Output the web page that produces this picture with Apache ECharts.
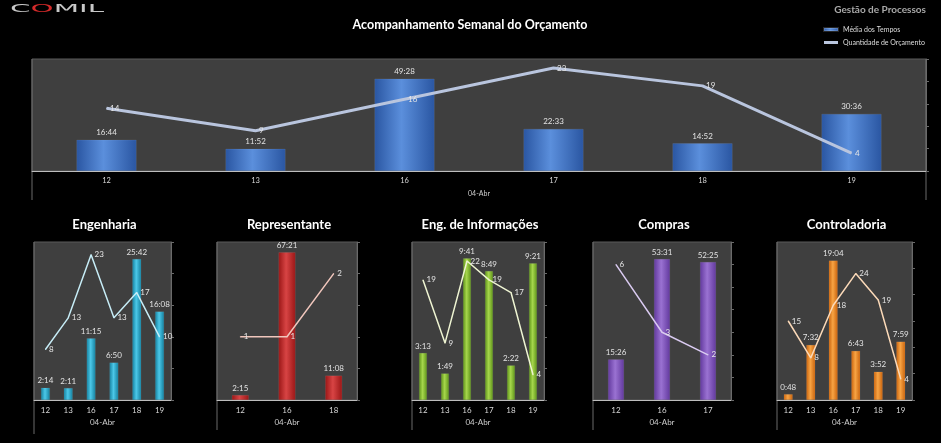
<!DOCTYPE html>
<html>
<head>
<meta charset="utf-8">
<script src="https://cdn.jsdelivr.net/npm/echarts@6/dist/echarts.min.js"></script>
<style>
  html, body { margin: 0; padding: 0; background: #000; }
  #chart { width: 941px; height: 443px; }
</style>
</head>
<body>
<div id="chart"></div>
<script>
// dados (tempos em mm:ss, quantidade de orçamentos)
var geralDias = ['12', '13', '16', '17', '18', '19'];
var geralTempos = ['16:44', '11:52', '49:28', '22:33', '14:52', '30:36'];
var geralQtd = [14, 9, 16, 23, 19, 4];

var engDias = ['12', '13', '16', '17', '18', '19'];
var engTempos = ['2:14', '2:11', '11:15', '6:50', '25:42', '16:08'];
var engQtd = [8, 13, 23, 13, 17, 10];

var repDias = ['12', '16', '18'];
var repTempos = ['2:15', '67:21', '11:08'];
var repQtd = [1, 1, 2];

var infDias = ['12', '13', '16', '17', '18', '19'];
var infTempos = ['3:13', '1:49', '9:41', '8:49', '2:22', '9:21'];
var infQtd = [19, 9, 22, 19, 17, 4];

var comDias = ['12', '16', '17'];
var comTempos = ['15:26', '53:31', '52:25'];
var comQtd = [6, 3, 2];

var conDias = ['12', '13', '16', '17', '18', '19'];
var conTempos = ['0:48', '7:32', '19:04', '6:43', '3:52', '7:59'];
var conQtd = [15, 8, 18, 24, 19, 4];

function toMin(s) {
    var p = s.split(':');
    return Number(p[0]) + Number(p[1]) / 60;
}

var FONT = 'Lato, "Open Sans", sans-serif';

var panels = [
    {title: null, left: 32, top: 59, width: 894, height: 112,
        dias: geralDias, tempos: geralTempos, qtd: geralQtd,
        tMax: 60, qMax: 25, qInt: 5, barW: 60,
        cols: ['#2a56a2', '#5b8fdc'], line: '#b9c5de', lw: 3, ext: 29, nameGap: 19,
        nameBar: 'Média dos Tempos', nameLine: 'Quantidade de Orçamento'},
    {title: 'Engenharia', left: 34, top: 242, width: 137, height: 158,
        dias: engDias, tempos: engTempos, qtd: engQtd,
        tMax: 28.8, qMax: 25, qInt: 5, barW: 9,
        cols: ['#137f9e', '#4cc8e8'], line: '#c6ecf6', lw: 1.5, ext: 34, nameGap: 18},
    {title: 'Representante', left: 217, top: 242, width: 140, height: 158,
        dias: repDias, tempos: repTempos, qtd: repQtd,
        tMax: 72, qMax: 2.5, qInt: 0.5, barW: 17,
        cols: ['#9a1616', '#d84444'], line: '#f0c6bc', lw: 1.5, ext: 30, nameGap: 18},
    {title: 'Eng. de Informações', left: 412, top: 242, width: 132, height: 158,
        dias: infDias, tempos: infTempos, qtd: infQtd,
        tMax: 10.8, qMax: 25, qInt: 5, barW: 8,
        cols: ['#5e9418', '#a6d64c'], line: '#eef4d2', lw: 1.5, ext: 30, nameGap: 18},
    {title: 'Compras', left: 593, top: 242, width: 138, height: 158,
        dias: comDias, tempos: comTempos, qtd: comQtd,
        tMax: 60, qMax: 7, qInt: 1, barW: 16,
        cols: ['#62399e', '#9a72d2'], line: '#d9caf0', lw: 1.5, ext: 30, nameGap: 18},
    {title: 'Controladoria', left: 777, top: 242, width: 135, height: 158,
        dias: conDias, tempos: conTempos, qtd: conQtd,
        tMax: 21.6, qMax: 30, qInt: 5, barW: 9,
        cols: ['#c8620c', '#f8a444'], line: '#fbd9b8', lw: 1.5, ext: 30, nameGap: 18}
];

var grid = [], xAxis = [], yAxis = [], series = [];
var graphic = [
    // logo
    {type: 'text', x: 10, y: 3, scaleX: 2.1, scaleY: 0.8,
        style: {text: '{w|C}{r|O}{w|MIL}', font: '14px "DejaVu Sans"',
            rich: {w: {fill: '#c8c8c8', fontSize: 14, fontFamily: 'DejaVu Sans'},
                r: {fill: '#d42a2a', fontSize: 14, fontFamily: 'DejaVu Sans'}}}},
    {type: 'text', x: 926, y: 5,
        style: {text: 'Gestão de Processos', fill: '#a8a8a8', textAlign: 'right',
            font: 'bold 10px ' + FONT}},
    {type: 'text', x: 470, y: 18,
        style: {text: 'Acompanhamento Semanal do Orçamento', fill: '#fff', textAlign: 'center',
            font: 'bold 12.5px ' + FONT}}
];

panels.forEach(function (p, i) {
    grid.push({left: p.left, top: p.top, width: p.width, height: p.height,
        show: true, backgroundColor: '#3f3f3f', borderColor: '#5a5a5a', borderWidth: 1});

    xAxis.push({
        type: 'category', gridIndex: i, data: p.dias,
        name: '04-Abr', nameLocation: 'middle', nameGap: p.nameGap,
        nameTextStyle: {color: '#ccc', fontSize: i === 0 ? 7 : 8, fontFamily: FONT},
        axisLine: {lineStyle: {color: '#bdbdbd', width: 1}},
        axisTick: {show: false},
        axisLabel: {color: '#d8d8d8', fontSize: i === 0 ? 7.5 : 8, margin: 6, fontFamily: FONT}
    });

    yAxis.push({
        type: 'value', gridIndex: i, min: 0, max: p.tMax, show: false
    });
    yAxis.push({
        type: 'value', gridIndex: i, position: 'right', min: 0, max: p.qMax, interval: p.qInt,
        axisLine: {show: true, lineStyle: {color: '#6a6a6a'}},
        axisTick: {show: true, length: 3, lineStyle: {color: '#6a6a6a'}},
        axisLabel: {show: false},
        splitLine: {show: false}
    });

    var tempos = p.tempos;
    series.push({
        name: p.nameBar || (p.title + ' tempos'),
        type: 'bar', xAxisIndex: i, yAxisIndex: i * 2,
        barWidth: p.barW,
        data: tempos.map(toMin),
        itemStyle: {
            color: new echarts.graphic.LinearGradient(0, 0, 1, 0, [
                {offset: 0, color: p.cols[0]},
                {offset: 0.45, color: p.cols[1]},
                {offset: 1, color: p.cols[0]}
            ]),
            borderColor: 'rgba(255,255,255,0.15)', borderWidth: 0.5
        },
        label: {
            show: true, position: 'top', distance: 3, color: '#e2e2e2',
            fontSize: 8, fontFamily: FONT,
            formatter: function (prm) { return tempos[prm.dataIndex]; }
        }
    });
    series.push({
        name: p.nameLine || (p.title + ' quantidade'),
        type: 'line', xAxisIndex: i, yAxisIndex: i * 2 + 1,
        data: p.qtd,
        symbol: 'circle', symbolSize: 1,
        itemStyle: {color: p.line},
        lineStyle: {color: p.line, width: p.lw},
        label: {show: true, position: 'right', distance: 3, color: '#e6e6e6',
            fontSize: 8, fontFamily: FONT}
    });

    // linhas laterais do eixo de categorias (estilo multinível)
    var bottom = p.top + p.height + p.ext;
    graphic.push({type: 'line', shape: {x1: p.left, y1: p.top, x2: p.left, y2: bottom},
        style: {stroke: '#6a6a6a', lineWidth: 1}});
    if (i === 0) {
        graphic.push({type: 'line', shape: {x1: p.left + p.width, y1: p.top, x2: p.left + p.width, y2: bottom},
            style: {stroke: '#6a6a6a', lineWidth: 1}});
    }
    if (p.title) {
        graphic.push({type: 'text', x: p.left + p.width / 2 + 2, y: 218,
            style: {text: p.title, fill: '#fff', textAlign: 'center', font: 'bold 13px ' + FONT}});
    }
});

var chart = echarts.init(document.getElementById('chart'));
chart.setOption({
    backgroundColor: '#000',
    animation: false,
    legend: {
        data: ['Média dos Tempos', 'Quantidade de Orçamento'],
        orient: 'vertical', left: 823, top: 26, padding: 0,
        itemWidth: 14, itemHeight: 3, itemGap: 6, icon: 'rect',
        textStyle: {color: '#ddd', fontSize: 7, fontFamily: FONT}
    },
    grid: grid,
    xAxis: xAxis,
    yAxis: yAxis,
    series: series,
    graphic: graphic
});
</script>
</body>
</html>
